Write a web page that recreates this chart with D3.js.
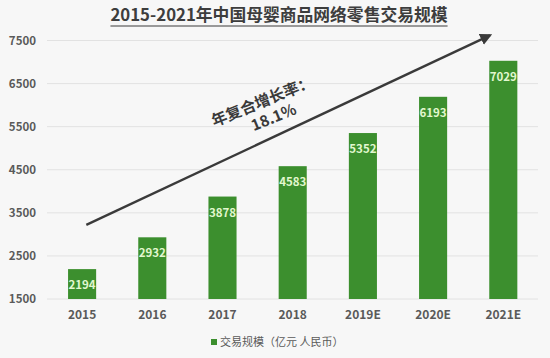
<!DOCTYPE html>
<html>
<head>
<meta charset="utf-8">
<script src="https://cdn.jsdelivr.net/npm/d3@7/dist/d3.min.js"></script>
<style>
  html, body { margin: 0; padding: 0; background: #f7f7f7; }
  svg { display: block; }
  text { font-family: "Noto Sans CJK SC", "Noto Sans", sans-serif; }
</style>
</head>
<body>
<svg id="chart" width="550" height="358"></svg>
<script>
const categories = ["2015", "2016", "2017", "2018", "2019E", "2020E", "2021E"];
const values = [2194, 2932, 3878, 4583, 5352, 6193, 7029];
const yTicks = [1500, 2500, 3500, 4500, 5500, 6500, 7500];
const title = "2015-2021年中国母婴商品网络零售交易规模";
const legendLabel = "交易规模（亿元 人民币）";
const cagrLine1 = "年复合增长率：";
const cagrLine2 = "18.1%";
// arrow annotation in (category index, value) space
const arrowFrom = [0.06, 3220];
const arrowTo = [5.81, 7620];
const cagrPos1 = [2.56, 6120];
const cagrPos2 = [2.72, 5750];

const svg = d3.select("#chart");
const W = 550, H = 358;
svg.append("rect").attr("width", W).attr("height", H).attr("fill", "#f7f7f7");

const x = d3.scaleBand().domain(categories).range([47, 538.4]).paddingInner(0.6).paddingOuter(0.3);
const y = d3.scaleLinear().domain([1500, 7500]).range([299, 40.5]);
const xi = d3.scaleLinear().domain([0, categories.length - 1])
  .range([x(categories[0]) + x.bandwidth() / 2, x(categories[categories.length - 1]) + x.bandwidth() / 2]);

// title
const t = svg.append("text").attr("x", 279).attr("y", 21).attr("text-anchor", "middle")
  .attr("font-size", 16.8).attr("font-weight", "bold").attr("fill", "#3d3d3d").text(title);
const tl = t.node().getComputedTextLength();
svg.append("line").attr("x1", 279 - tl / 2).attr("x2", 279 + tl / 2).attr("y1", 26).attr("y2", 26)
  .attr("stroke", "#3d3d3d").attr("stroke-width", 1.2);

// gridlines
svg.append("g").selectAll("line").data(yTicks).join("line")
  .attr("x1", 47).attr("x2", 538).attr("y1", d => y(d)).attr("y2", d => y(d))
  .attr("stroke", "#e2e2e2").attr("stroke-width", 1);

// y axis
const yAxis = svg.append("g").attr("transform", "translate(36,0)")
  .call(d3.axisLeft(y).tickValues(yTicks).tickFormat(d3.format("d")).tickSize(0).tickPadding(0));
yAxis.select(".domain").remove();
yAxis.selectAll("text").attr("font-size", 11.5).attr("font-weight", "bold").attr("fill", "#5a5a5a")
  .attr("font-family", "'Noto Sans CJK SC', sans-serif");

// x axis
const xAxis = svg.append("g").attr("transform", "translate(0,310)")
  .call(d3.axisBottom(x).tickSize(0).tickPadding(0));
xAxis.select(".domain").remove();
xAxis.selectAll("text").attr("font-size", 12).attr("font-weight", "bold").attr("fill", "#5a5a5a")
  .attr("font-family", "'Noto Sans CJK SC', sans-serif");

// bars
const data = categories.map((c, i) => ({ c, v: values[i] }));
svg.append("g").selectAll("rect").data(data).join("rect")
  .attr("x", d => x(d.c)).attr("width", x.bandwidth())
  .attr("y", d => y(d.v)).attr("height", d => y(1500) - y(d.v))
  .attr("fill", "#3c8f2e");

svg.append("g").selectAll("text").data(data).join("text")
  .attr("x", d => x(d.c) + x.bandwidth() / 2).attr("y", d => y(d.v) + 20)
  .attr("text-anchor", "middle").attr("font-size", 11.5).attr("font-weight", "bold")
  .attr("fill", "#e2f7cf").text(d => d.v);

// arrow
const defs = svg.append("defs");
defs.append("marker").attr("id", "ah").attr("viewBox", "0 0 10 10").attr("refX", 8).attr("refY", 5)
  .attr("markerWidth", 5).attr("markerHeight", 5).attr("orient", "auto")
  .append("path").attr("d", "M0,0 L10,5 L0,10 Z").attr("fill", "#3a3a3a");
svg.append("line")
  .attr("x1", xi(arrowFrom[0])).attr("y1", y(arrowFrom[1]))
  .attr("x2", xi(arrowTo[0])).attr("y2", y(arrowTo[1]))
  .attr("stroke", "#3a3a3a").attr("stroke-width", 2.4).attr("marker-end", "url(#ah)");

const ang = -22;
[[cagrLine1, cagrPos1], [cagrLine2, cagrPos2]].forEach(([txt, p]) => {
  const px = xi(p[0]), py = y(p[1]);
  svg.append("text").attr("transform", `translate(${px},${py}) rotate(${ang})`)
    .attr("text-anchor", "middle").attr("dominant-baseline", "central")
    .attr("font-size", 15.5).attr("font-weight", "bold").attr("fill", "#3a3a3a").text(txt);
});

// legend
svg.append("rect").attr("x", 211).attr("y", 339).attr("width", 6).attr("height", 6).attr("fill", "#3c8f2e");
svg.append("text").attr("x", 220).attr("y", 346).attr("font-size", 11).attr("fill", "#5a5a5a")
  .text(legendLabel);
</script>
</body>
</html>
